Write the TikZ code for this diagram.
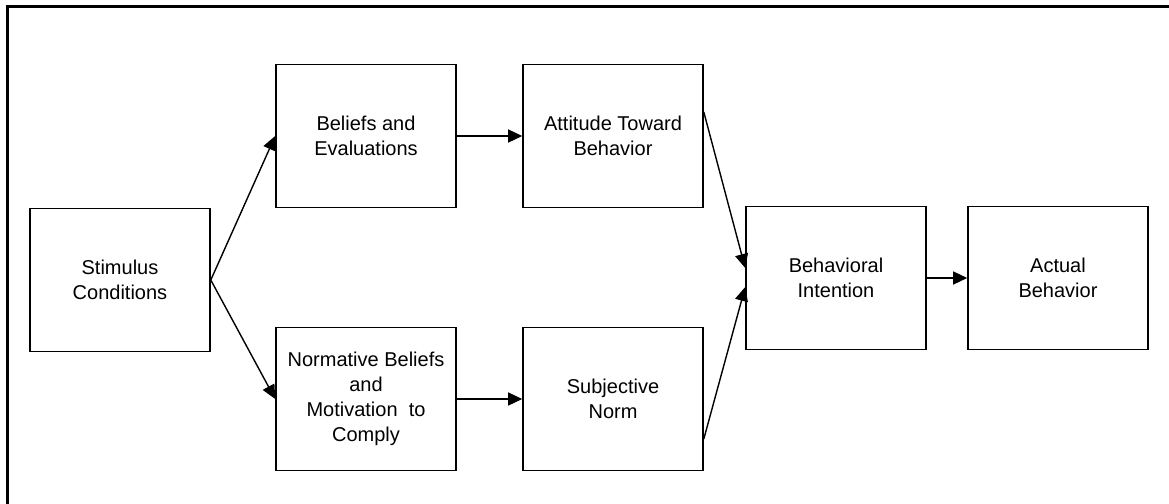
\documentclass[tikz,border=0pt]{standalone}
\usepackage{fontspec}
\setmainfont{Liberation Sans}
\usetikzlibrary{calc,arrows.meta,positioning}
\tikzset{%
    factor/.style={%
        rectangle, draw=black, line width=0.8pt, minimum width=90pt, minimum height=71.5pt,
        align=center, font=\fontsize{10}{12.5}\selectfont
    },
    link/.style={%
        line width=0.7pt, -{Triangle[length=7pt,width=6.5pt]}
    },
    frame/.style={%
        line width=1.5pt
    },
}
\begin{document}
\begin{tikzpicture}[x=0.5pt,y=-0.5pt]
      \useasboundingbox (0,0) rectangle (1169,504);
      \draw[frame] (7,504) -- (7,6) -- (1169,6);

      \node[factor] (stim) at (120,280) {Stimulus\\Conditions};
      \node[factor] (bel) at (366,136) {Beliefs and\\Evaluations};
      \node[factor] (norm) at (366,399) {Normative Beliefs\\and\\Motivation\ \ to\\Comply};
      \node[factor] (att) at (613,136) {Attitude Toward\\Behavior};
      \node[factor] (subj) at (613,399) {Subjective\\Norm};
      \node[factor] (intent) at (836,278) {Behavioral\\Intention};
      \node[factor] (act) at (1058,278) {Actual\\Behavior};

      \draw[link] (stim.east) -- (bel.west);
      \draw[link] (stim.east) -- (norm.west);
      \draw[link] (bel.east) -- (att.west);
      \draw[link] (norm.east) -- (subj.west);

      \coordinate (att-out) at ($(att.east)+(0,-24)$);
      \coordinate (subj-out) at ($(subj.east)+(0,40)$);
      \coordinate (intent-in1) at ($(intent.west)+(0,-10)$);
      \coordinate (intent-in2) at ($(intent.west)+(0,9)$);
      \draw[link] (att-out) -- (intent-in1);
      \draw[link] (subj-out) -- (intent-in2);

      \draw[link] (intent.east) -- (act.west);
    \end{tikzpicture}
\end{document}
